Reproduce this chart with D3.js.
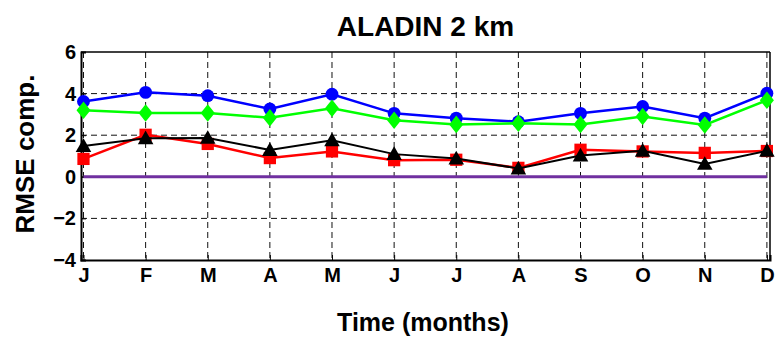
<!DOCTYPE html>
<html>
<head>
<meta charset="utf-8">
<script src="https://cdn.jsdelivr.net/npm/d3@7"></script>
<style>
  body { margin: 0; background: #fff; }
  text { font-family: "Liberation Sans", Arial, sans-serif; font-weight: bold; fill: #000; }
</style>
</head>
<body>
<div id="chart"></div>
<script>
// data
const MONTHS = ["J", "F", "M", "A", "M", "J", "J", "A", "S", "O", "N", "D"];
const Y_TICKS = [-4, -2, 0, 2, 4, 6];
const BLUE_VALUES = [3.62, 4.06, 3.90, 3.26, 3.97, 3.05, 2.82, 2.65, 3.05, 3.38, 2.82, 4.02];
const GREEN_VALUES = [3.20, 3.07, 3.07, 2.84, 3.30, 2.72, 2.52, 2.57, 2.52, 2.90, 2.49, 3.68];
const RED_VALUES = [0.86, 2.02, 1.58, 0.90, 1.22, 0.80, 0.82, 0.43, 1.30, 1.22, 1.15, 1.24];
const BLACK_VALUES = [1.48, 1.85, 1.87, 1.29, 1.76, 1.09, 0.88, 0.40, 1.02, 1.25, 0.62, 1.25];
const ZERO_VALUES = [0, 0, 0, 0, 0, 0, 0, 0, 0, 0, 0, 0];

const FRAME_WIDTH = 775;
const FRAME_HEIGHT = 339;
const MARGINS = {left: 81, right: 5, top: 52, bottom: 79};

const FRAME = d3.select("#chart")
                .append("svg")
                  .attr("width", FRAME_WIDTH)
                  .attr("height", FRAME_HEIGHT);

const X_SCALE = d3.scaleLinear()
                  .domain([0.96, 12.05])
                  .range([MARGINS.left, FRAME_WIDTH - MARGINS.right]);

const Y_SCALE = d3.scaleLinear()
                  .domain([-4, 6])
                  .range([FRAME_HEIGHT - MARGINS.bottom, MARGINS.top]);

const idx = d3.range(1, 13);

// grid lines
FRAME.append("g")
     .selectAll("line")
     .data(idx)
     .enter().append("line")
       .attr("x1", d => X_SCALE(d)).attr("x2", d => X_SCALE(d))
       .attr("y1", Y_SCALE(6)).attr("y2", Y_SCALE(-4))
       .attr("stroke", "#111").attr("stroke-width", 1)
       .attr("stroke-dasharray", "6,4");

FRAME.append("g")
     .selectAll("line")
     .data(Y_TICKS.filter(d => d > -4 && d < 6))
     .enter().append("line")
       .attr("x1", X_SCALE.range()[0]).attr("x2", X_SCALE.range()[1])
       .attr("y1", d => Y_SCALE(d)).attr("y2", d => Y_SCALE(d))
       .attr("stroke", "#111").attr("stroke-width", 1)
       .attr("stroke-dasharray", "6,4");

// box
FRAME.append("line")
     .attr("x1", X_SCALE.range()[0]).attr("x2", X_SCALE.range()[1])
     .attr("y1", Y_SCALE(6)).attr("y2", Y_SCALE(6))
     .attr("stroke", "#000").attr("stroke-width", 1.5);
FRAME.append("line")
     .attr("x1", X_SCALE.range()[1]).attr("x2", X_SCALE.range()[1])
     .attr("y1", Y_SCALE(6)).attr("y2", Y_SCALE(-4))
     .attr("stroke", "#000").attr("stroke-width", 1.5);

// axes
const yAxis = FRAME.append("g")
     .attr("transform", "translate(" + MARGINS.left + ",0)")
     .call(d3.axisLeft(Y_SCALE).tickValues(Y_TICKS).tickSize(-5).tickPadding(5));
const xAxis = FRAME.append("g")
     .attr("transform", "translate(0," + (FRAME_HEIGHT - MARGINS.bottom) + ")")
     .call(d3.axisBottom(X_SCALE).tickValues(idx).tickSize(-5).tickPadding(8)
                .tickFormat(d => MONTHS[d - 1]));

[yAxis, xAxis].forEach(a => {
  a.select(".domain").attr("stroke", "#000").attr("stroke-width", 2);
  a.selectAll(".tick line").attr("stroke", "#000").attr("stroke-width", 1);
  a.selectAll("text").style("font-family", "'Liberation Sans', Arial, sans-serif")
   .style("font-weight", "bold").style("font-size", "20px").attr("fill", "#000");
});
xAxis.selectAll("text").attr("dy", "0.72em");

// series
const line = d3.line().x((d, i) => X_SCALE(i + 1)).y(d => Y_SCALE(d));

function drawSeries(values, color, width, symbol, size) {
  FRAME.append("path")
       .datum(values)
       .attr("d", line)
       .attr("fill", "none")
       .attr("stroke", color)
       .attr("stroke-width", width);
  if (symbol) {
    FRAME.append("g").selectAll("path")
         .data(values)
         .enter().append("path")
           .attr("d", d3.symbol().type(symbol).size(size))
           .attr("transform", (d, i) => "translate(" + X_SCALE(i + 1) + "," + Y_SCALE(d) + ")")
           .attr("fill", color);
  }
}

const diamond = {
  draw(ctx, size) {
    const h = Math.sqrt(size) * 0.62, w = h * 0.8;
    ctx.moveTo(0, -h); ctx.lineTo(w, 0); ctx.lineTo(0, h); ctx.lineTo(-w, 0); ctx.closePath();
  }
};
const triangle = {
  draw(ctx, size) {
    const s = Math.sqrt(size);
    ctx.moveTo(0, -s * 0.55); ctx.lineTo(s * 0.55, s * 0.42); ctx.lineTo(-s * 0.55, s * 0.42); ctx.closePath();
  }
};

drawSeries(ZERO_VALUES, "#7030A0", 3, null, 0);
drawSeries(BLUE_VALUES, "#0000FF", 2.5, d3.symbolCircle, 130);
drawSeries(GREEN_VALUES, "#00FF00", 2.5, diamond, 200);
drawSeries(RED_VALUES, "#FF0000", 2.5, d3.symbolSquare, 150);
drawSeries(BLACK_VALUES, "#000000", 2, triangle, 200);

// titles
FRAME.append("text")
     .attr("x", 425.5).attr("y", 36)
     .attr("text-anchor", "middle")
     .style("font-size", "28px")
     .text("ALADIN 2 km");

FRAME.append("text")
     .attr("x", 423).attr("y", 331)
     .attr("text-anchor", "middle")
     .style("font-size", "25px")
     .text("Time (months)");

FRAME.append("text")
     .attr("transform", "translate(34,154) rotate(-90)")
     .attr("text-anchor", "middle")
     .style("font-size", "26px")
     .text("RMSE comp.");
</script>
</body>
</html>
